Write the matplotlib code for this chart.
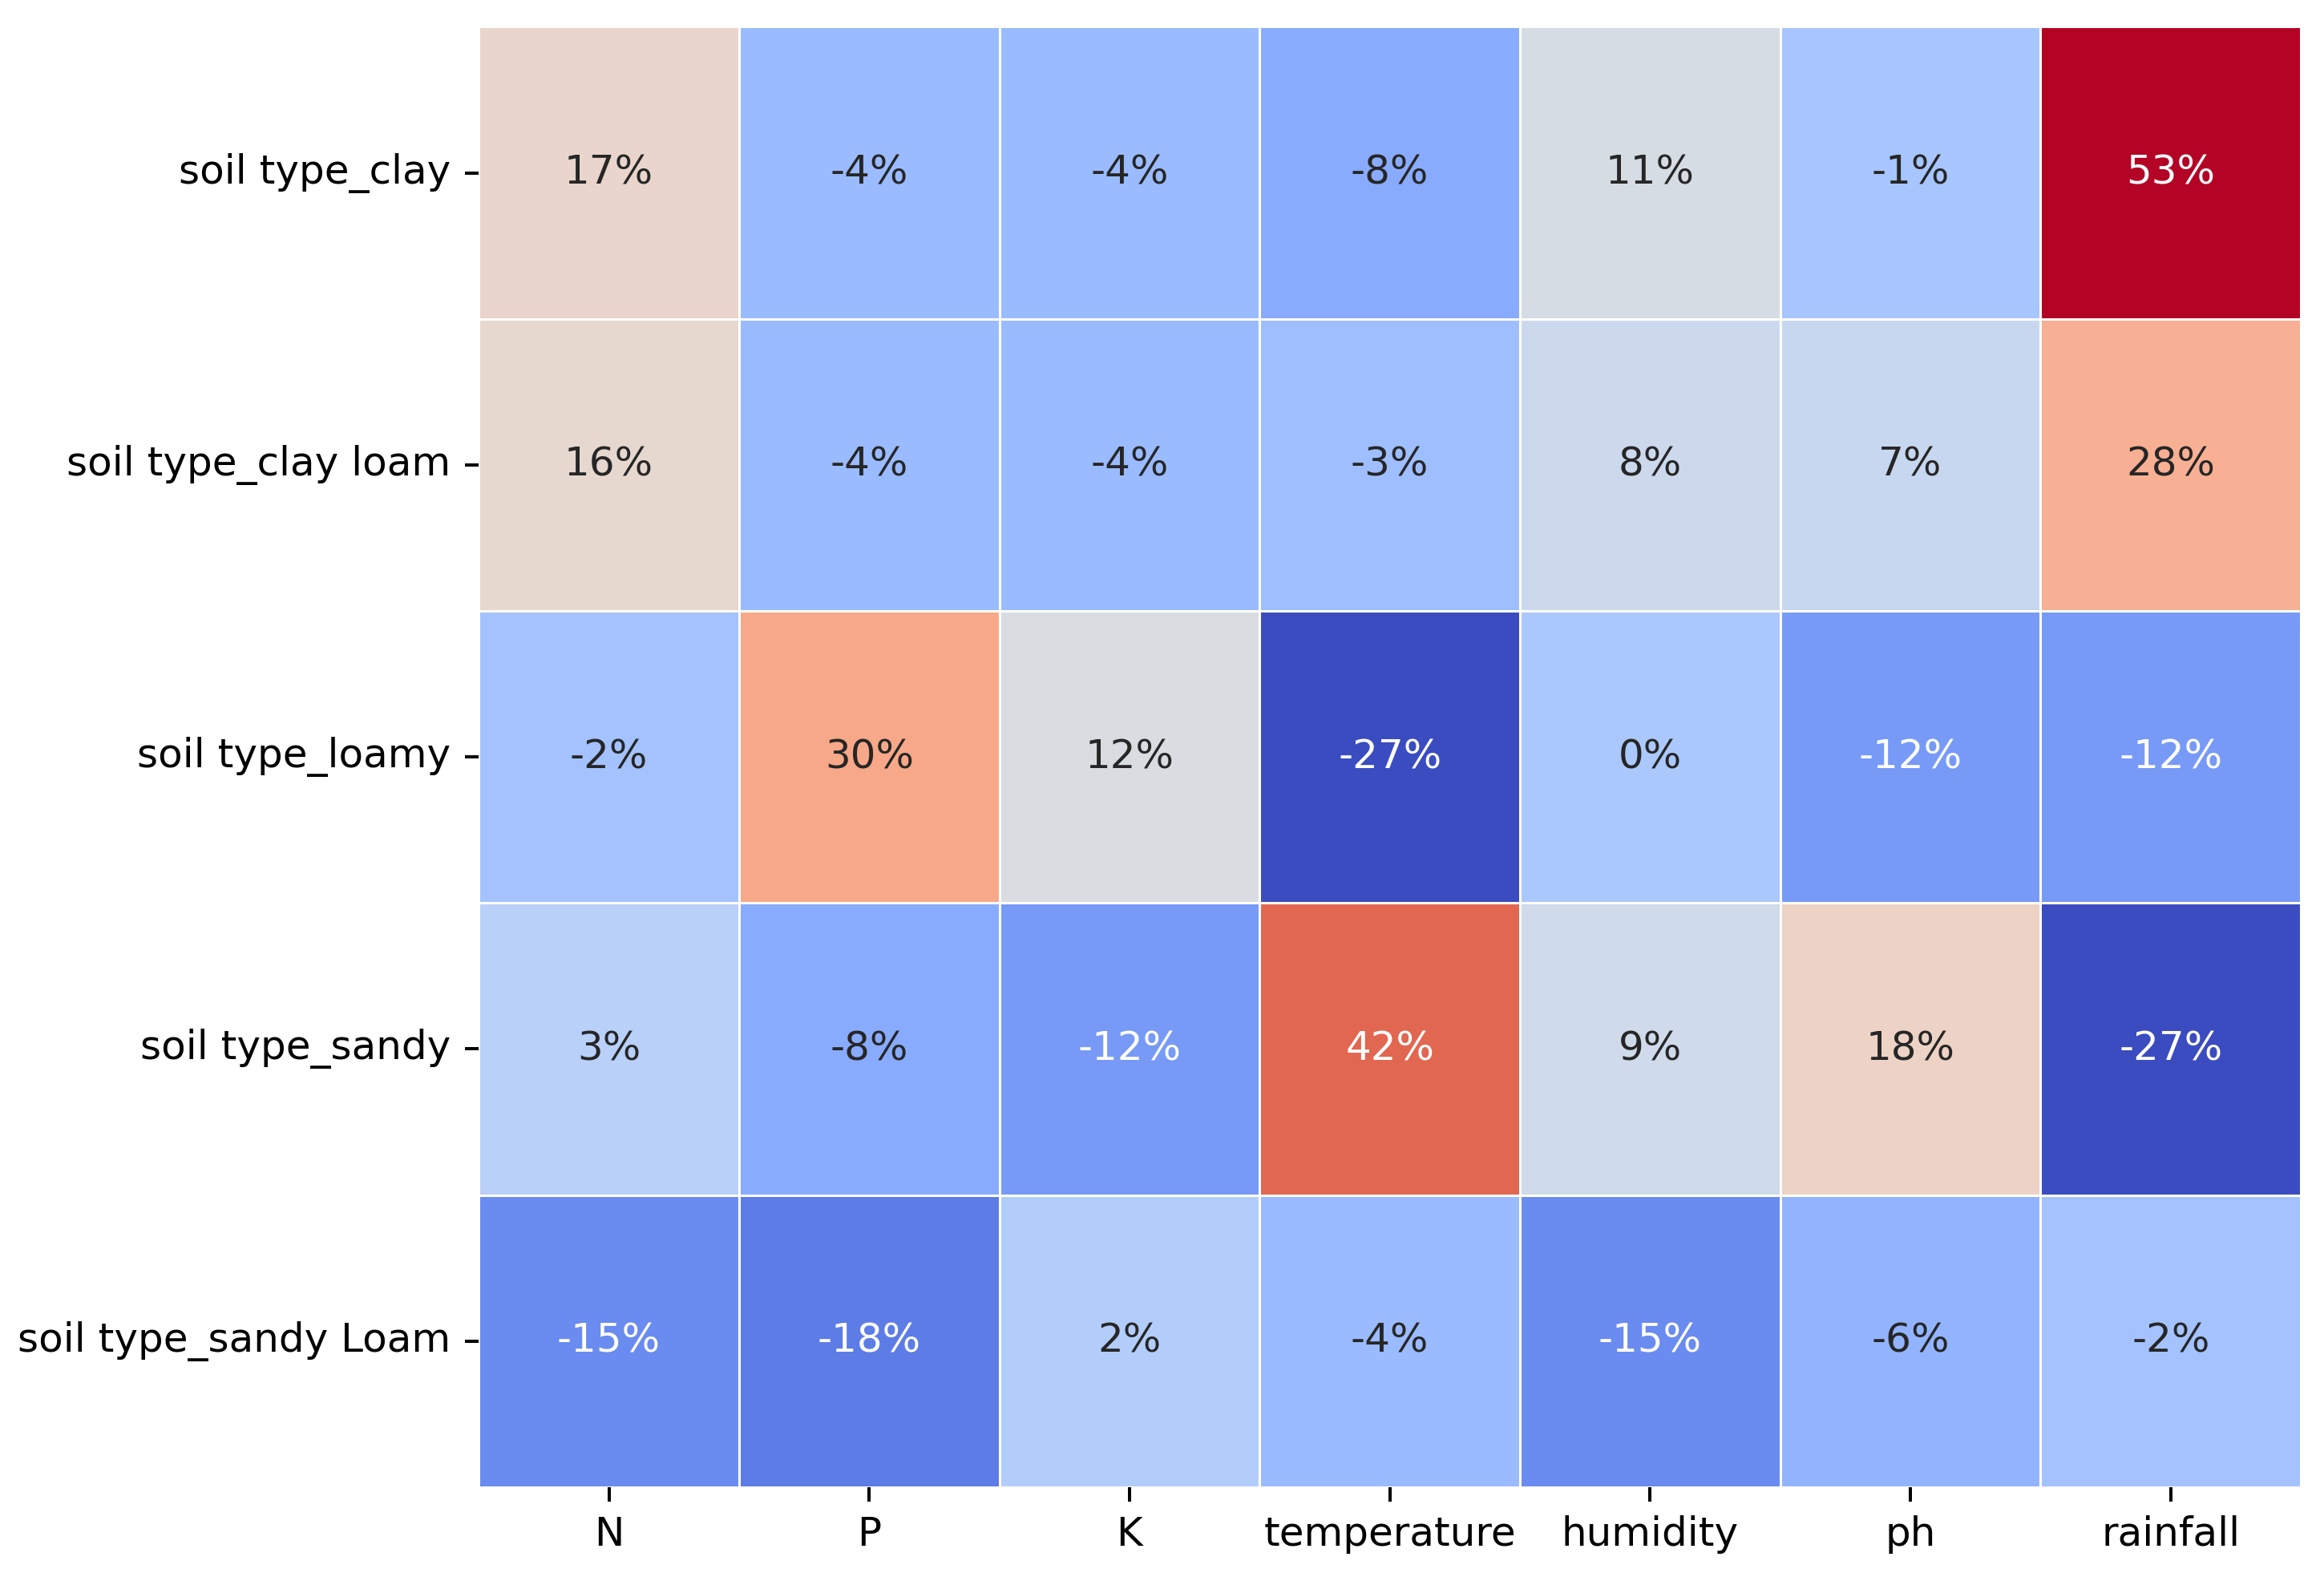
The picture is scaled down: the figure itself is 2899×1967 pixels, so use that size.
import numpy as np
import pandas as pd
import matplotlib
matplotlib.use("Agg")
import matplotlib.pyplot as plt
import seaborn as sns

soil_types = ["soil type_clay", "soil type_clay loam", "soil type_loamy",
              "soil type_sandy", "soil type_sandy Loam"]
features = ["N", "P", "K", "temperature", "humidity", "ph", "rainfall"]

clay = [0.17, -0.04, -0.04, -0.08, 0.11, -0.01, 0.53]
clay_loam = [0.16, -0.04, -0.04, -0.03, 0.08, 0.07, 0.28]
loamy = [-0.02, 0.30, 0.12, -0.27, 0.00, -0.12, -0.12]
sandy = [0.03, -0.08, -0.12, 0.42, 0.09, 0.18, -0.27]
sandy_loam = [-0.15, -0.18, 0.02, -0.04, -0.15, -0.06, -0.02]

corr = pd.DataFrame([clay, clay_loam, loamy, sandy, sandy_loam],
                    index=soil_types, columns=features)

fig, ax = plt.subplots(figsize=(8.053, 5.464), dpi=360)
sns.heatmap(corr, annot=True, fmt=".0%", cmap="coolwarm", cbar=False,
            linewidths=0.5, linecolor="white", ax=ax)
ax.tick_params(axis="y", rotation=0)
ax.tick_params(axis="x", rotation=0)
plt.subplots_adjust(left=0.206, right=0.990, top=0.983, bottom=0.057)
plt.savefig("out.png", dpi=360)
